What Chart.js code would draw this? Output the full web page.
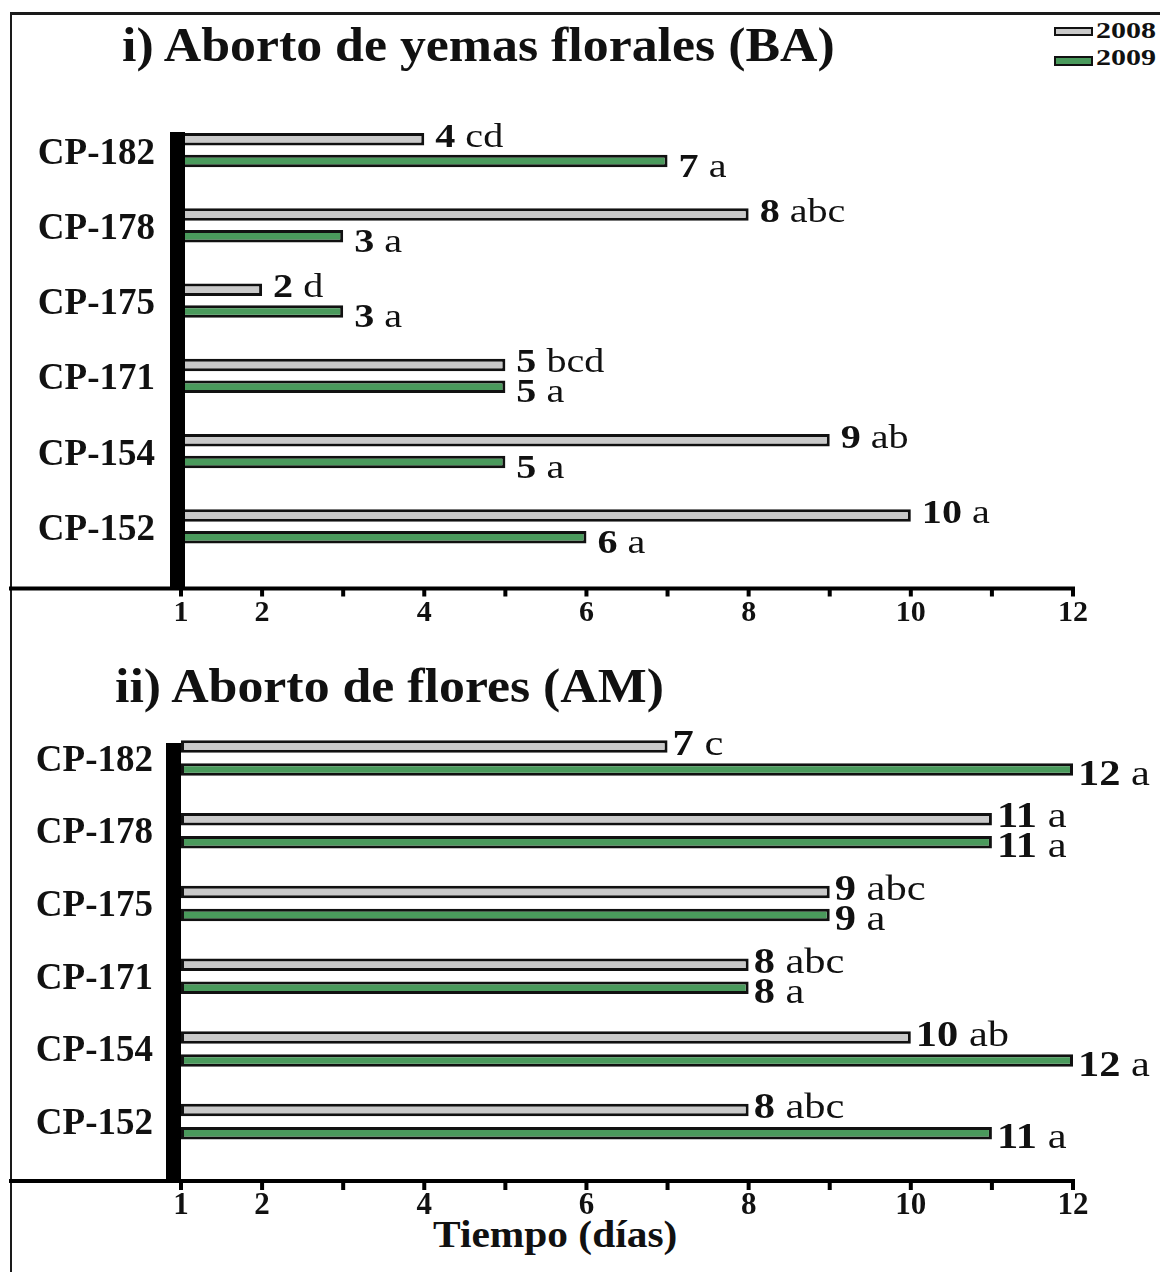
<!DOCTYPE html>
<html>
<head>
<meta charset="utf-8">
<title>Aborto de yemas florales y flores</title>
<script src="https://cdn.jsdelivr.net/npm/chart.js@4/dist/chart.umd.min.js"></script>
<style>
  html, body { margin: 0; padding: 0; background: #fff; }
  #page { position: relative; width: 1160px; height: 1272px; overflow: hidden; background: #fff;
          font-family: "Liberation Serif", "Times New Roman", serif; color: #111; }
  canvas { position: absolute; left: 0; }
  #budChart { top: 0; }
  #flowerChart { top: 640px; }
  .txt { position: absolute; white-space: nowrap; font-weight: bold; transform-origin: 0 0; }
  .frame { position: absolute; background: #1a1a1a; }
  .swatch { position: absolute; box-sizing: border-box; border: 2.5px solid #111; }
</style>
</head>
<body>
<div id="page">
  <div class="frame" style="left:10px; top:12px; width:1150px; height:3px;"></div>
  <div class="frame" style="left:10px; top:12px; width:2px; height:1260px;"></div>

  <div class="txt" style="left:122px; top:21px; font-size:48px; line-height:48px; transform:scaleX(1.08);">i) Aborto de yemas florales (BA)</div>
  <div class="txt" style="left:115px; top:662px; font-size:48px; line-height:48px; transform:scaleX(1.08);">ii) Aborto de flores (AM)</div>
  <div class="txt" style="left:433px; top:1215px; font-size:38px; line-height:38px; transform:scaleX(1.09);">Tiempo (días)</div>

  <div class="swatch" style="left:1054px; top:27px; width:39px; height:9px; background:#c9c9c9;"></div>
  <div class="txt" id="leg2008" style="left:1096px; top:18px; font-size:24px; line-height:24px; transform:scaleX(1.25);"></div>
  <div class="swatch" style="left:1054px; top:56px; width:39px; height:10px; background:#4a9a5c;"></div>
  <div class="txt" id="leg2009" style="left:1096px; top:45px; font-size:24px; line-height:24px; transform:scaleX(1.25);"></div>

  <canvas id="budChart" width="1160" height="640" style="width:1160px;height:640px;"></canvas>
  <canvas id="flowerChart" width="1160" height="632" style="width:1160px;height:632px;"></canvas>
</div>

<script>
// Genotypes, top to bottom
const categories = ['CP-182', 'CP-178', 'CP-175', 'CP-171', 'CP-154', 'CP-152'];
const seriesNames = ['2008', '2009'];

// i) Bud abortion (BA), days
const budAbortion2008 = [4, 8, 2, 5, 9, 10];
const budAbortion2009 = [7, 3, 3, 5, 5, 6];
const budLetters2008 = ['cd', 'abc', 'd', 'bcd', 'ab', 'a'];
const budLetters2009 = ['a', 'a', 'a', 'a', 'a', 'a'];

// ii) Flower abortion (AM), days
const flowerAbortion2008 = [7, 11, 9, 8, 10, 8];
const flowerAbortion2009 = [12, 11, 9, 8, 12, 11];
const flowerLetters2008 = ['c', 'a', 'abc', 'abc', 'ab', 'abc'];
const flowerLetters2009 = ['a', 'a', 'a', 'a', 'a', 'a'];

// Labelled days on the time axis
const xTickLabels = [1, 2, 4, 6, 8, 10, 12];

const GREY = '#c9c9c9';
const GREEN = '#4a9a5c';
const EDGE = '#111111';
const SERIF = '"Liberation Serif", "Times New Roman", serif';

document.getElementById('leg2008').textContent = seriesNames[0];
document.getElementById('leg2009').textContent = seriesNames[1];

// Thick black spine at the start of the value axis, the time axis line and its day ticks
const panelAxes = {
  id: 'panelAxes',
  afterDatasetsDraw(chart, args, o) {
    const ctx = chart.ctx;
    const x = chart.scales.x;
    const start = x.getPixelForValue(x.min);
    const end = x.getPixelForValue(x.max);
    ctx.save();
    ctx.fillStyle = '#000';
    ctx.fillRect(start + o.spineOffset, o.spineTop, o.spineWidth, o.axisY - o.spineTop);
    ctx.fillRect(o.axisLeft, o.axisY - 2, end + 2 - o.axisLeft, 4);
    for (let v = x.min; v <= x.max; v++) {
      const px = x.getPixelForValue(v);
      ctx.fillRect(px - 2, o.axisY, 4, o.tickLen);
    }
    ctx.restore();
  }
};

// Mean value (bold) followed by its significance letters, at the end of each bar
const valueLabels = {
  id: 'valueLabels',
  afterDatasetsDraw(chart, args, o) {
    const ctx = chart.ctx;
    ctx.save();
    ctx.fillStyle = '#111';
    ctx.textBaseline = 'alphabetic';
    chart.data.datasets.forEach((ds, di) => {
      const meta = chart.getDatasetMeta(di);
      meta.data.forEach((bar, i) => {
        const num = String(ds.data[i]);
        ctx.save();
        ctx.translate(bar.x + o.gap, bar.y + o.dy[di] + o.size * 0.34);
        ctx.scale(o.stretch, 1);
        ctx.font = `bold ${o.size}px ${SERIF}`;
        ctx.fillText(num, 0, 0);
        const w = ctx.measureText(num).width;
        ctx.font = `${o.size}px ${SERIF}`;
        const sp = ctx.measureText(' ').width;
        ctx.fillText(ds.letters[i], w + sp, 0);
        ctx.restore();
      });
    });
    ctx.restore();
  }
};

function buildPanel(id, values08, values09, letters08, letters09, lay) {
  const barStyle = { borderColor: EDGE, borderWidth: 3, borderSkipped: false, base: 1, clip: 0 };
  return new Chart(document.getElementById(id), {
    type: 'bar',
    data: {
      labels: categories,
      datasets: [
        Object.assign({ label: seriesNames[0], data: values08, letters: letters08, backgroundColor: GREY }, barStyle),
        Object.assign({ label: seriesNames[1], data: values09, letters: letters09, backgroundColor: GREEN }, barStyle)
      ]
    },
    options: {
      indexAxis: 'y',
      responsive: false,
      maintainAspectRatio: false,
      animation: false,
      devicePixelRatio: 1,
      layout: { padding: { top: lay.top, right: 87, bottom: lay.bottom, left: 0 } },
      datasets: { bar: { categoryPercentage: lay.catPct, barPercentage: lay.barPct } },
      scales: {
        x: {
          type: 'linear', min: 1, max: 12,
          grid: { display: false, drawTicks: false },
          border: { display: false },
          ticks: {
            stepSize: 1, autoSkip: false, maxRotation: 0, padding: lay.xTickPad, color: '#111',
            font: { family: SERIF, size: lay.xTickSize, weight: 'bold' },
            callback: v => xTickLabels.includes(v) ? String(v) : ''
          },
          afterFit: s => { s.height = lay.xAxisH; }
        },
        y: {
          type: 'category', offset: true,
          grid: { display: false, drawTicks: false },
          border: { display: false },
          ticks: {
            autoSkip: false, padding: lay.yTickPad, labelOffset: lay.yLabelOffset, color: '#111',
            font: { family: SERIF, size: 37, weight: 'bold' }
          },
          afterFit: s => { s.width = 181; }
        }
      },
      plugins: {
        legend: { display: false },
        tooltip: { enabled: false },
        title: { display: false },
        panelAxes: lay.axes,
        valueLabels: lay.labels
      }
    },
    plugins: [panelAxes, valueLabels]
  });
}

buildPanel('budChart', budAbortion2008, budAbortion2009, budLetters2008, budLetters2009, {
  top: 112.5, bottom: 6, xAxisH: 70, xTickPad: 31, xTickSize: 30, yTickPad: 26, yLabelOffset: 4,
  catPct: 0.584, barPct: 0.568,
  axes: { spineOffset: -11, spineWidth: 15, spineTop: 132, axisY: 588.5, axisLeft: 9, tickLen: 8 },
  labels: { gap: 11, dy: [-4, 4], size: 34, stretch: 1.18 }
});

buildPanel('flowerChart', flowerAbortion2008, flowerAbortion2009, flowerLetters2008, flowerLetters2009, {
  top: 81.6, bottom: 34, xAxisH: 80, xTickPad: 29, xTickSize: 31, yTickPad: 28, yLabelOffset: 3,
  catPct: 0.633, barPct: 0.543,
  axes: { spineOffset: -15, spineWidth: 15, spineTop: 103, axisY: 541, axisLeft: 9, tickLen: 9 },
  labels: { gap: 5, dy: [-4, 3], size: 36, stretch: 1.18 }
});
</script>
</body>
</html>
